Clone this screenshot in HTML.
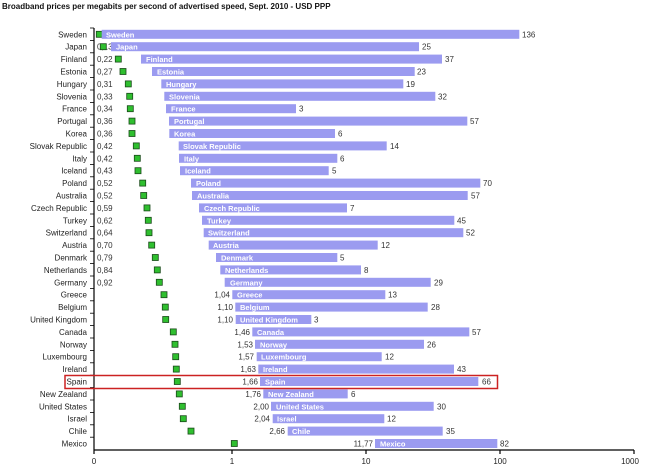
<!DOCTYPE html>
<html><head><meta charset="utf-8"><style>
html,body{margin:0;padding:0;background:#fff;width:650px;height:465px;overflow:hidden}
svg{display:block;font-family:"Liberation Sans",Arial,sans-serif}
.c{font-size:8px;fill:#222;text-anchor:end}
.p{font-size:8px;fill:#333}
.pe{font-size:8px;fill:#333;text-anchor:end}
.b{fill:#9b9bf0}
.bl{font-size:7.5px;fill:#fff;font-weight:bold}
.v{font-size:8px;fill:#333}
.g{fill:#2fbf2f;stroke:#1a4a1a;stroke-width:0.8}
</style></head><body>
<svg width="650" height="465" viewBox="0 0 650 465">
<text x="2" y="9" font-size="8" font-weight="bold" fill="#111">Broadband prices per megabits per second of advertised speed, Sept. 2010 - USD PPP</text>
<g stroke="#000" stroke-width="1.2">
<line x1="94" y1="28" x2="94" y2="450"/>
<line x1="94" y1="450" x2="634" y2="450"/>
<line x1="232" y1="450" x2="232" y2="454"/><line x1="366" y1="450" x2="366" y2="454"/><line x1="500" y1="450" x2="500" y2="454"/><line x1="634" y1="450" x2="634" y2="454"/><line x1="94" y1="450" x2="94" y2="454"/>
</g>
<g stroke="#000" stroke-width="0.8">
<line x1="90" y1="28" x2="94" y2="28"/><line x1="90" y1="40.4" x2="94" y2="40.4"/><line x1="90" y1="52.8" x2="94" y2="52.8"/><line x1="90" y1="65.2" x2="94" y2="65.2"/><line x1="90" y1="77.6" x2="94" y2="77.6"/><line x1="90" y1="90" x2="94" y2="90"/><line x1="90" y1="102.4" x2="94" y2="102.4"/><line x1="90" y1="114.8" x2="94" y2="114.8"/><line x1="90" y1="127.2" x2="94" y2="127.2"/><line x1="90" y1="139.6" x2="94" y2="139.6"/><line x1="90" y1="152" x2="94" y2="152"/><line x1="90" y1="164.4" x2="94" y2="164.4"/><line x1="90" y1="176.8" x2="94" y2="176.8"/><line x1="90" y1="189.2" x2="94" y2="189.2"/><line x1="90" y1="201.6" x2="94" y2="201.6"/><line x1="90" y1="214" x2="94" y2="214"/><line x1="90" y1="226.4" x2="94" y2="226.4"/><line x1="90" y1="238.8" x2="94" y2="238.8"/><line x1="90" y1="251.2" x2="94" y2="251.2"/><line x1="90" y1="263.6" x2="94" y2="263.6"/><line x1="90" y1="276" x2="94" y2="276"/><line x1="90" y1="288.4" x2="94" y2="288.4"/><line x1="90" y1="300.8" x2="94" y2="300.8"/><line x1="90" y1="313.2" x2="94" y2="313.2"/><line x1="90" y1="325.6" x2="94" y2="325.6"/><line x1="90" y1="338" x2="94" y2="338"/><line x1="90" y1="350.4" x2="94" y2="350.4"/><line x1="90" y1="362.8" x2="94" y2="362.8"/><line x1="90" y1="375.2" x2="94" y2="375.2"/><line x1="90" y1="387.6" x2="94" y2="387.6"/><line x1="90" y1="400" x2="94" y2="400"/><line x1="90" y1="412.4" x2="94" y2="412.4"/><line x1="90" y1="424.8" x2="94" y2="424.8"/><line x1="90" y1="437.2" x2="94" y2="437.2"/>
</g>
<g font-size="8" fill="#222" text-anchor="middle">
<text x="94" y="464">0</text><text x="232" y="464">1</text><text x="366" y="464">10</text><text x="500" y="464">100</text><text x="630" y="464">1000</text>
</g>

<g transform="translate(0,34.3)"><text class="c" x="87" y="3">Sweden</text><text class="p" x="97" y="3">0,11</text><rect class="g" x="96.3" y="-3" width="6" height="6"/><rect class="b" x="101.7" y="-4.5" width="417.6" height="9"/><text class="bl" x="106" y="3">Sweden</text><text class="v" x="522" y="3">136</text></g>
<g transform="translate(0,46.7)"><text class="c" x="87" y="3">Japan</text><text class="p" x="97" y="3">0,13</text><rect class="g" x="100.3" y="-3" width="6" height="6"/><rect class="b" x="111" y="-4.5" width="308" height="9"/><text class="bl" x="116" y="3">Japan</text><text class="v" x="422" y="3">25</text></g>
<g transform="translate(0,59.1)"><text class="c" x="87" y="3">Finland</text><text class="p" x="97" y="3">0,22</text><rect class="g" x="115.3" y="-3" width="6" height="6"/><rect class="b" x="141" y="-4.5" width="301" height="9"/><text class="bl" x="146" y="3">Finland</text><text class="v" x="445" y="3">37</text></g>
<g transform="translate(0,71.5)"><text class="c" x="87" y="3">Estonia</text><text class="p" x="97" y="3">0,27</text><rect class="g" x="120" y="-3" width="6" height="6"/><rect class="b" x="152" y="-4.5" width="262.7" height="9"/><text class="bl" x="157" y="3">Estonia</text><text class="v" x="417" y="3">23</text></g>
<g transform="translate(0,83.9)"><text class="c" x="87" y="3">Hungary</text><text class="p" x="97" y="3">0,31</text><rect class="g" x="125.3" y="-3" width="6" height="6"/><rect class="b" x="161.3" y="-4.5" width="242" height="9"/><text class="bl" x="166" y="3">Hungary</text><text class="v" x="406" y="3">19</text></g>
<g transform="translate(0,96.3)"><text class="c" x="87" y="3">Slovenia</text><text class="p" x="97" y="3">0,33</text><rect class="g" x="126.7" y="-3" width="6" height="6"/><rect class="b" x="164.3" y="-4.5" width="271" height="9"/><text class="bl" x="169" y="3">Slovenia</text><text class="v" x="438" y="3">32</text></g>
<g transform="translate(0,108.7)"><text class="c" x="87" y="3">France</text><text class="p" x="97" y="3">0,34</text><rect class="g" x="127.3" y="-3" width="6" height="6"/><rect class="b" x="166" y="-4.5" width="130" height="9"/><text class="bl" x="171" y="3">France</text><text class="v" x="299" y="3">3</text></g>
<g transform="translate(0,121.1)"><text class="c" x="87" y="3">Portugal</text><text class="p" x="97" y="3">0,36</text><rect class="g" x="129" y="-3" width="6" height="6"/><rect class="b" x="169" y="-4.5" width="298.3" height="9"/><text class="bl" x="174" y="3">Portugal</text><text class="v" x="470" y="3">57</text></g>
<g transform="translate(0,133.5)"><text class="c" x="87" y="3">Korea</text><text class="p" x="97" y="3">0,36</text><rect class="g" x="129" y="-3" width="6" height="6"/><rect class="b" x="169.3" y="-4.5" width="165.7" height="9"/><text class="bl" x="174" y="3">Korea</text><text class="v" x="338" y="3">6</text></g>
<g transform="translate(0,145.9)"><text class="c" x="87" y="3">Slovak Republic</text><text class="p" x="97" y="3">0,42</text><rect class="g" x="133.3" y="-3" width="6" height="6"/><rect class="b" x="178.7" y="-4.5" width="208" height="9"/><text class="bl" x="183" y="3">Slovak Republic</text><text class="v" x="390" y="3">14</text></g>
<g transform="translate(0,158.3)"><text class="c" x="87" y="3">Italy</text><text class="p" x="97" y="3">0,42</text><rect class="g" x="134.3" y="-3" width="6" height="6"/><rect class="b" x="179" y="-4.5" width="158.3" height="9"/><text class="bl" x="184" y="3">Italy</text><text class="v" x="340" y="3">6</text></g>
<g transform="translate(0,170.7)"><text class="c" x="87" y="3">Iceland</text><text class="p" x="97" y="3">0,43</text><rect class="g" x="135" y="-3" width="6" height="6"/><rect class="b" x="180" y="-4.5" width="148.7" height="9"/><text class="bl" x="185" y="3">Iceland</text><text class="v" x="332" y="3">5</text></g>
<g transform="translate(0,183.1)"><text class="c" x="87" y="3">Poland</text><text class="p" x="97" y="3">0,52</text><rect class="g" x="139.7" y="-3" width="6" height="6"/><rect class="b" x="191" y="-4.5" width="289.3" height="9"/><text class="bl" x="196" y="3">Poland</text><text class="v" x="483" y="3">70</text></g>
<g transform="translate(0,195.5)"><text class="c" x="87" y="3">Australia</text><text class="p" x="97" y="3">0,52</text><rect class="g" x="140.7" y="-3" width="6" height="6"/><rect class="b" x="192" y="-4.5" width="275.7" height="9"/><text class="bl" x="197" y="3">Australia</text><text class="v" x="471" y="3">57</text></g>
<g transform="translate(0,207.9)"><text class="c" x="87" y="3">Czech Republic</text><text class="p" x="97" y="3">0,59</text><rect class="g" x="144" y="-3" width="6" height="6"/><rect class="b" x="199" y="-4.5" width="148" height="9"/><text class="bl" x="204" y="3">Czech Republic</text><text class="v" x="350" y="3">7</text></g>
<g transform="translate(0,220.3)"><text class="c" x="87" y="3">Turkey</text><text class="p" x="97" y="3">0,62</text><rect class="g" x="145.3" y="-3" width="6" height="6"/><rect class="b" x="202" y="-4.5" width="252.3" height="9"/><text class="bl" x="207" y="3">Turkey</text><text class="v" x="457" y="3">45</text></g>
<g transform="translate(0,232.7)"><text class="c" x="87" y="3">Switzerland</text><text class="p" x="97" y="3">0,64</text><rect class="g" x="146" y="-3" width="6" height="6"/><rect class="b" x="203.7" y="-4.5" width="259.6" height="9"/><text class="bl" x="208" y="3">Switzerland</text><text class="v" x="466" y="3">52</text></g>
<g transform="translate(0,245.1)"><text class="c" x="87" y="3">Austria</text><text class="p" x="97" y="3">0,70</text><rect class="g" x="148.7" y="-3" width="6" height="6"/><rect class="b" x="208.7" y="-4.5" width="169" height="9"/><text class="bl" x="213" y="3">Austria</text><text class="v" x="381" y="3">12</text></g>
<g transform="translate(0,257.5)"><text class="c" x="87" y="3">Denmark</text><text class="p" x="97" y="3">0,79</text><rect class="g" x="152.3" y="-3" width="6" height="6"/><rect class="b" x="216" y="-4.5" width="121.3" height="9"/><text class="bl" x="221" y="3">Denmark</text><text class="v" x="340" y="3">5</text></g>
<g transform="translate(0,269.9)"><text class="c" x="87" y="3">Netherlands</text><text class="p" x="97" y="3">0,84</text><rect class="g" x="154.3" y="-3" width="6" height="6"/><rect class="b" x="220.3" y="-4.5" width="140.7" height="9"/><text class="bl" x="225" y="3">Netherlands</text><text class="v" x="364" y="3">8</text></g>
<g transform="translate(0,282.3)"><text class="c" x="87" y="3">Germany</text><text class="p" x="97" y="3">0,92</text><rect class="g" x="156.3" y="-3" width="6" height="6"/><rect class="b" x="224.7" y="-4.5" width="206" height="9"/><text class="bl" x="230" y="3">Germany</text><text class="v" x="434" y="3">29</text></g>
<g transform="translate(0,294.7)"><text class="c" x="87" y="3">Greece</text><text class="pe" x="230" y="3">1,04</text><rect class="g" x="161" y="-3" width="6" height="6"/><rect class="b" x="232.3" y="-4.5" width="153" height="9"/><text class="bl" x="237" y="3">Greece</text><text class="v" x="388" y="3">13</text></g>
<g transform="translate(0,307.1)"><text class="c" x="87" y="3">Belgium</text><text class="pe" x="233" y="3">1,10</text><rect class="g" x="162.3" y="-3" width="6" height="6"/><rect class="b" x="235.3" y="-4.5" width="192.4" height="9"/><text class="bl" x="240" y="3">Belgium</text><text class="v" x="431" y="3">28</text></g>
<g transform="translate(0,319.5)"><text class="c" x="87" y="3">United Kingdom</text><text class="pe" x="233" y="3">1,10</text><rect class="g" x="162.7" y="-3" width="6" height="6"/><rect class="b" x="235.7" y="-4.5" width="75.6" height="9"/><text class="bl" x="240" y="3">United Kingdom</text><text class="v" x="314" y="3">3</text></g>
<g transform="translate(0,331.9)"><text class="c" x="87" y="3">Canada</text><text class="pe" x="250" y="3">1,46</text><rect class="g" x="170.3" y="-3" width="6" height="6"/><rect class="b" x="252.3" y="-4.5" width="217" height="9"/><text class="bl" x="257" y="3">Canada</text><text class="v" x="472" y="3">57</text></g>
<g transform="translate(0,344.3)"><text class="c" x="87" y="3">Norway</text><text class="pe" x="253" y="3">1,53</text><rect class="g" x="172" y="-3" width="6" height="6"/><rect class="b" x="255" y="-4.5" width="169" height="9"/><text class="bl" x="260" y="3">Norway</text><text class="v" x="427" y="3">26</text></g>
<g transform="translate(0,356.7)"><text class="c" x="87" y="3">Luxembourg</text><text class="pe" x="254" y="3">1,57</text><rect class="g" x="172.7" y="-3" width="6" height="6"/><rect class="b" x="256.7" y="-4.5" width="125" height="9"/><text class="bl" x="261" y="3">Luxembourg</text><text class="v" x="385" y="3">12</text></g>
<g transform="translate(0,369.1)"><text class="c" x="87" y="3">Ireland</text><text class="pe" x="256" y="3">1,63</text><rect class="g" x="173.3" y="-3" width="6" height="6"/><rect class="b" x="258.3" y="-4.5" width="195.7" height="9"/><text class="bl" x="263" y="3">Ireland</text><text class="v" x="457" y="3">43</text></g>
<g transform="translate(0,381.5)"><text class="c" x="87" y="3">Spain</text><text class="pe" x="258" y="3">1,66</text><rect class="g" x="174.3" y="-3" width="6" height="6"/><rect class="b" x="260" y="-4.5" width="218.3" height="9"/><text class="bl" x="265" y="3">Spain</text><text class="v" x="482" y="3">66</text></g>
<g transform="translate(0,393.9)"><text class="c" x="87" y="3">New Zealand</text><text class="pe" x="261" y="3">1,76</text><rect class="g" x="176.3" y="-3" width="6" height="6"/><rect class="b" x="263.3" y="-4.5" width="84.4" height="9"/><text class="bl" x="268" y="3">New Zealand</text><text class="v" x="351" y="3">6</text></g>
<g transform="translate(0,406.3)"><text class="c" x="87" y="3">United States</text><text class="pe" x="269" y="3">2,00</text><rect class="g" x="179.3" y="-3" width="6" height="6"/><rect class="b" x="271" y="-4.5" width="162.7" height="9"/><text class="bl" x="276" y="3">United States</text><text class="v" x="437" y="3">30</text></g>
<g transform="translate(0,418.7)"><text class="c" x="87" y="3">Israel</text><text class="pe" x="270" y="3">2,04</text><rect class="g" x="180.3" y="-3" width="6" height="6"/><rect class="b" x="272.7" y="-4.5" width="111.6" height="9"/><text class="bl" x="277" y="3">Israel</text><text class="v" x="387" y="3">12</text></g>
<g transform="translate(0,431.1)"><text class="c" x="87" y="3">Chile</text><text class="pe" x="285" y="3">2,66</text><rect class="g" x="188" y="-3" width="6" height="6"/><rect class="b" x="287.7" y="-4.5" width="155" height="9"/><text class="bl" x="292" y="3">Chile</text><text class="v" x="446" y="3">35</text></g>
<g transform="translate(0,443.5)"><text class="c" x="87" y="3">Mexico</text><text class="pe" x="373" y="3">11,77</text><rect class="g" x="231.3" y="-3" width="6" height="6"/><rect class="b" x="375" y="-4.5" width="122.3" height="9"/><text class="bl" x="380" y="3">Mexico</text><text class="v" x="500" y="3">82</text></g>

<rect x="65" y="375.5" width="432.5" height="13" fill="none" stroke="#cc2222" stroke-width="1.5"/>
</svg>
</body></html>
